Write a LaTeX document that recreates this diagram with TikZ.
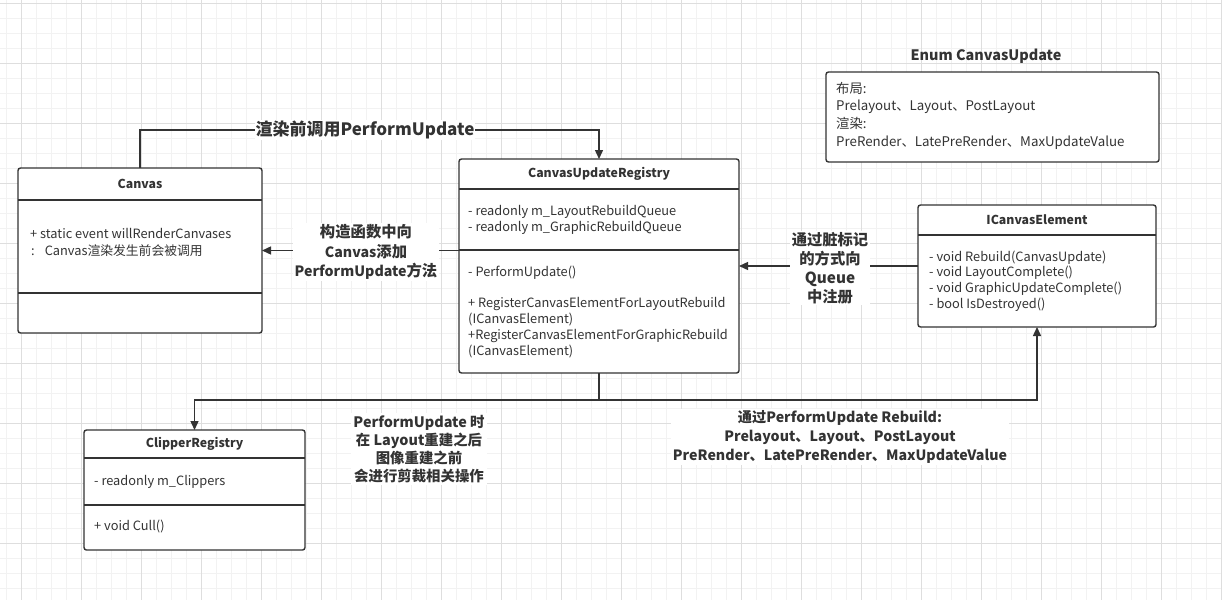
\documentclass[tikz,border=0pt]{standalone}
\usepackage{fontspec}
\setmainfont{Noto Sans CJK SC}
\newfontfamily\cjkM{Noto Sans CJK SC}
\newfontfamily\cjkA{Noto Sans CJK SC}
\newfontfamily\cjkB[Scale=1.08]{Noto Sans CJK SC}
\let\cjk\cjkA
\usetikzlibrary{arrows.meta}
\definecolor{ink}{HTML}{333333}
\definecolor{gridminor}{HTML}{F2F2F2}
\definecolor{gridmajor}{HTML}{DEDEDE}
\tikzset{
  cls/.style={draw=ink, line width=1.4pt, rounded corners=2.5pt, fill=white, inner sep=0pt, outer sep=0pt, anchor=north west},
  sep/.style={draw=ink, line width=1.4pt},
  hdr/.style={font=\fontsize{12.3}{14}\selectfont\bfseries, text=ink, inner sep=0pt},
  mem/.style={font=\fontsize{12.8}{14}\selectfont, text=ink, inner sep=0pt, text height=9pt, text depth=3pt, anchor=west, execute at begin node={\let\cjk\cjkM}},
  lbl/.style={font=\fontsize{14}{19}\selectfont\bfseries, text=ink, fill=white, align=center, inner sep=2pt},
  cjkbig/.style={execute at begin node={\let\cjk\cjkB}},
  conn/.style={draw=ink, line width=1.4pt},
  arr/.style={conn, -{Triangle[length=9pt,width=8pt]}},
}
\begin{document}
\begin{tikzpicture}[x=1pt,y=-1pt]
\useasboundingbox (0,0) rectangle (1222,600);
\fill[white] (0,0) rectangle (1222,600);
% grid
\foreach \gx in {6,21,...,1221} \draw[gridminor, line width=0.8pt] (\gx,0) -- (\gx,600);
\foreach \gy in {3,18,...,600} \draw[gridminor, line width=0.8pt] (0,\gy) -- (1222,\gy);
\foreach \gx in {21,81,...,1221} \draw[gridmajor, line width=0.8pt] (\gx,0) -- (\gx,600);
\foreach \gy in {3,63,...,600} \draw[gridmajor, line width=0.8pt] (0,\gy) -- (1222,\gy);

% Canvas
\node[cls, minimum width=244pt, minimum height=165pt] (canvas) at (18,168) {};
\node[hdr] (canvasT) at ([yshift=-16pt]canvas.north) {Canvas};
\draw[sep] ([yshift=-32pt]canvas.north west) -- ([yshift=-32pt]canvas.north east);
\draw[sep] ([yshift=-125pt]canvas.north west) -- ([yshift=-125pt]canvas.north east);
\node[mem] (cv1) at (30,235) {+ static event willRenderCanvases};
\node[mem] (cv2) at (31,252) {:\hspace{10pt}Canvas{\cjk 渲染发生前会被调用}};

% CanvasUpdateRegistry
\node[cls, minimum width=280pt, minimum height=214pt] (cur) at (459,159) {};
\node[hdr] (curT) at ([yshift=-15pt]cur.north) {CanvasUpdateRegistry};
\draw[sep] ([yshift=-30pt]cur.north west) -- ([yshift=-30pt]cur.north east);
\draw[sep] ([yshift=-91pt]cur.north west) -- ([yshift=-91pt]cur.north east);
\node[mem] (cu1) at (468,212) {- readonly m\_LayoutRebuildQueue};
\node[mem] (cu2) at (468,228) {- readonly m\_GraphicRebuildQueue};
\node[mem] (cu3) at (468,273) {- PerformUpdate()};
\node[mem] (cu4) at (468,304) {+ RegisterCanvasElementForLayoutRebuild};
\node[mem] (cu5) at (468,320) {(ICanvasElement)};
\node[mem] (cu6) at (468,336) {+RegisterCanvasElementForGraphicRebuild};
\node[mem] (cu7) at (468,352) {(ICanvasElement)};

% ICanvasElement
\node[cls, minimum width=238pt, minimum height=122pt] (ice) at (918,205) {};
\node[hdr] (iceT) at ([yshift=-15pt]ice.north) {ICanvasElement};
\draw[sep] ([yshift=-30pt]ice.north west) -- ([yshift=-30pt]ice.north east);
\node[mem] (ie1) at (929,258) {- void Rebuild(CanvasUpdate)};
\node[mem] (ie2) at (929,273) {- void LayoutComplete()};
\node[mem] (ie3) at (929,289) {- void GraphicUpdateComplete()};
\node[mem] (ie4) at (929,305) {- bool IsDestroyed()};

% Enum CanvasUpdate
\node[hdr, font=\fontsize{14.4}{16}\selectfont\bfseries] (enumT) at (986,56) {Enum CanvasUpdate};
\node[cls, minimum width=333pt, minimum height=90pt] (enum) at (826,72) {};
\node[mem, font=\fontsize{13.3}{14}\selectfont] (en1) at (836,90) {{\cjk 布局}:};
\node[mem, font=\fontsize{13.3}{14}\selectfont] (en2) at (836,107) {Prelayout{\cjk 、}Layout{\cjk 、}PostLayout};
\node[mem, font=\fontsize{13.3}{14}\selectfont] (en3) at (836,125) {{\cjk 渲染}:};
\node[mem, font=\fontsize{13.3}{14}\selectfont] (en4) at (836,143) {PreRender{\cjk 、}LatePreRender{\cjk 、}MaxUpdateValue};

% ClipperRegistry
\node[cls, minimum width=221pt, minimum height=120pt] (clip) at (84,430) {};
\node[hdr] (clipT) at ([yshift=-14pt]clip.north) {ClipperRegistry};
\draw[sep] ([yshift=-28pt]clip.north west) -- ([yshift=-28pt]clip.north east);
\draw[sep] ([yshift=-75pt]clip.north west) -- ([yshift=-75pt]clip.north east);
\node[mem] (cl1) at (94,482) {- readonly m\_Clippers};
\node[mem] (cl2) at (94,527) {+ void Cull()};

% connectors
\draw[arr] (canvas.north) -- ++(0,-38) -| (cur.north);
\node[lbl, font=\fontsize{17}{19}\selectfont\bfseries, inner sep=1pt] (l1) at (365,130) {{\cjk 渲染前调用}PerformUpdate};

\draw[arr] (cur.west |- canvas.east) -- (canvas.east);
\node[lbl, cjkbig, inner ysep=1pt, font=\fontsize{14.2}{19.5}\selectfont\bfseries] (l2) at (366,252) {{\cjk 构造函数中向}\\Canvas{\cjk 添加}\\PerformUpdate{\cjk 方法}};

\draw[arr] (ice.west) -- (ice.west -| cur.east);
\node[lbl, inner ysep=1pt, font=\fontsize{15.3}{19}\selectfont\bfseries] (l3) at (830,268) {{\cjk 通过脏标记}\\{\cjk 的方式向}\\Queue\\{\cjk 中注册}};

\coordinate (split) at ([yshift=-27pt]cur.south);
\draw[arr] (cur.south) -- (split) -| (clip.north);
\draw[arr] (split) -| (ice.south);

\node[lbl, font=\fontsize{14.4}{18}\selectfont\bfseries] (l4) at (419,449) {PerformUpdate {\cjk 时}\\{\cjk 在} Layout{\cjk 重建之后}\\{\cjk 图像重建之前}\\{\cjk 会进行剪裁相关操作}};
\node[lbl, font=\fontsize{14.2}{19}\selectfont\bfseries] (l5) at (840,437) {{\cjk 通过}PerformUpdate Rebuild:\\Prelayout{\cjk 、}Layout{\cjk 、}PostLayout\\PreRender{\cjk 、}LatePreRender{\cjk 、}MaxUpdateValue};
\end{tikzpicture}
\end{document}
